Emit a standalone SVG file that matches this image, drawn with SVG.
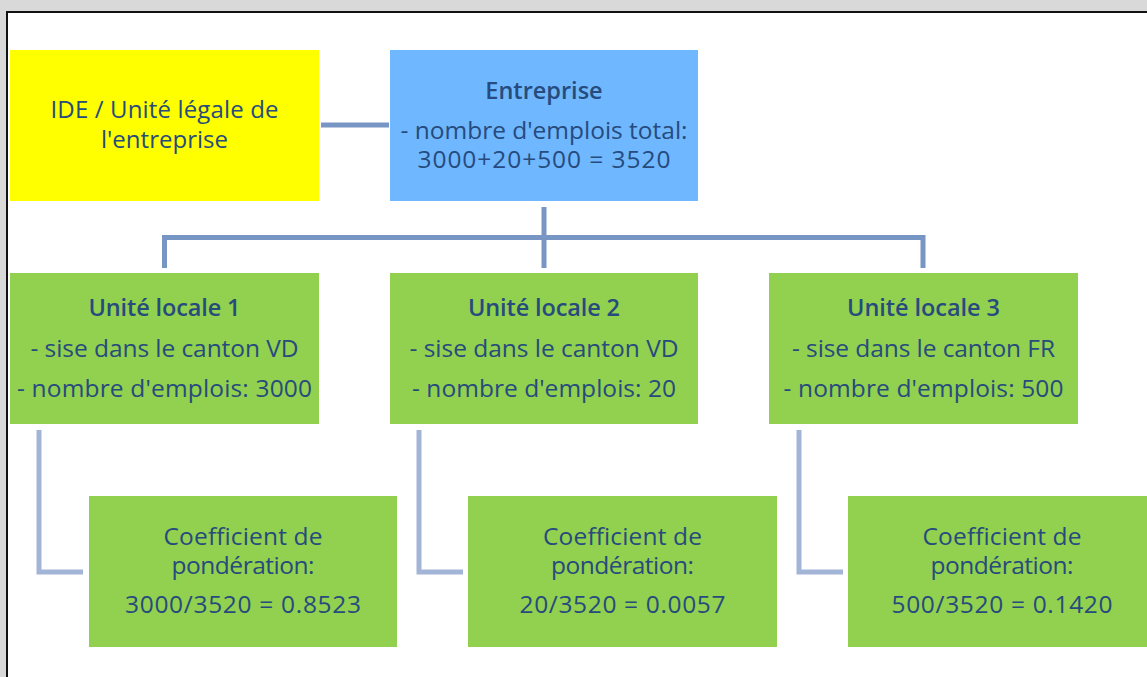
<svg xmlns="http://www.w3.org/2000/svg" width="1147" height="677" viewBox="0 0 1147 677">
<style>
.t{font-family:"Open Sans","Noto Sans",sans-serif;font-size:24.5px;fill:#264b7c;text-anchor:middle}
.b{font-weight:600;font-size:23.5px}
.m{font-weight:500;font-size:24px}
.c1{fill:none;stroke:#7896c4;stroke-width:5}
.c2{fill:none;stroke:#a3b5d6;stroke-width:5}
.g{fill:#92d050}
</style>
<rect x="0" y="0" width="1147" height="677" fill="#d9d9d9"/>
<rect x="7" y="12" width="1150" height="680" fill="#ffffff" stroke="#111" stroke-width="2"/>
<g id="connectors">
<path class="c1" d="M321 125H389"/>
<path class="c1" d="M544 207V268M164.5 268V237.5H923V268"/>
<path class="c2" d="M39 430V572H83"/>
<path class="c2" d="M419 430V572H463"/>
<path class="c2" d="M799 430V572H843"/>
</g>
<g id="ide">
<rect x="10" y="50" width="309" height="151" fill="#ffff00"/>
<text class="t m" x="164.5" y="118" textLength="228">IDE / Unité légale de</text>
<text class="t m" x="164.5" y="148" textLength="127">l'entreprise</text>
</g>
<g id="entreprise">
<rect x="390" y="50" width="308" height="151" fill="#6fb7ff"/>
<text class="t b" x="544" y="99">Entreprise</text>
<text class="t" x="544" y="139" textLength="287">- nombre d'emplois total:</text>
<text class="t" x="544" y="168" textLength="253">3000+20+500 = 3520</text>
</g>
<g id="ul1">
<rect class="g" x="10" y="273" width="309" height="151"/>
<text class="t b" x="164.5" y="316" textLength="152">Unité locale 1</text>
<text class="t" x="164.5" y="357" textLength="268">- sise dans le canton VD</text>
<text class="t" x="164.5" y="397" textLength="295">- nombre d'emplois: 3000</text>
</g>
<g id="ul2">
<rect class="g" x="390" y="273" width="308" height="151"/>
<text class="t b" x="544" y="316" textLength="152">Unité locale 2</text>
<text class="t" x="544" y="357" textLength="269">- sise dans le canton VD</text>
<text class="t" x="544" y="397" textLength="264">- nombre d'emplois: 20</text>
</g>
<g id="ul3">
<rect class="g" x="769" y="273" width="309" height="151"/>
<text class="t b" x="923.5" y="316" textLength="153">Unité locale 3</text>
<text class="t" x="923.5" y="357" textLength="263">- sise dans le canton FR</text>
<text class="t" x="923.5" y="397" textLength="280">- nombre d'emplois: 500</text>
</g>
<g id="coef1">
<rect class="g" x="89" y="496" width="308" height="151"/>
<text class="t" x="243" y="545" textLength="159">Coefficient de</text>
<text class="t" x="243" y="574" textLength="143">pondération:</text>
<text class="t" x="243" y="613" textLength="236">3000/3520 = 0.8523</text>
</g>
<g id="coef2">
<rect class="g" x="468" y="496" width="309" height="151"/>
<text class="t" x="622.5" y="545" textLength="159">Coefficient de</text>
<text class="t" x="622.5" y="574" textLength="143">pondération:</text>
<text class="t" x="622.5" y="613" textLength="206">20/3520 = 0.0057</text>
</g>
<g id="coef3">
<rect class="g" x="848" y="496" width="308" height="151"/>
<text class="t" x="1002" y="545" textLength="159">Coefficient de</text>
<text class="t" x="1002" y="574" textLength="143">pondération:</text>
<text class="t" x="1002" y="613" textLength="221">500/3520 = 0.1420</text>
</g>
</svg>
